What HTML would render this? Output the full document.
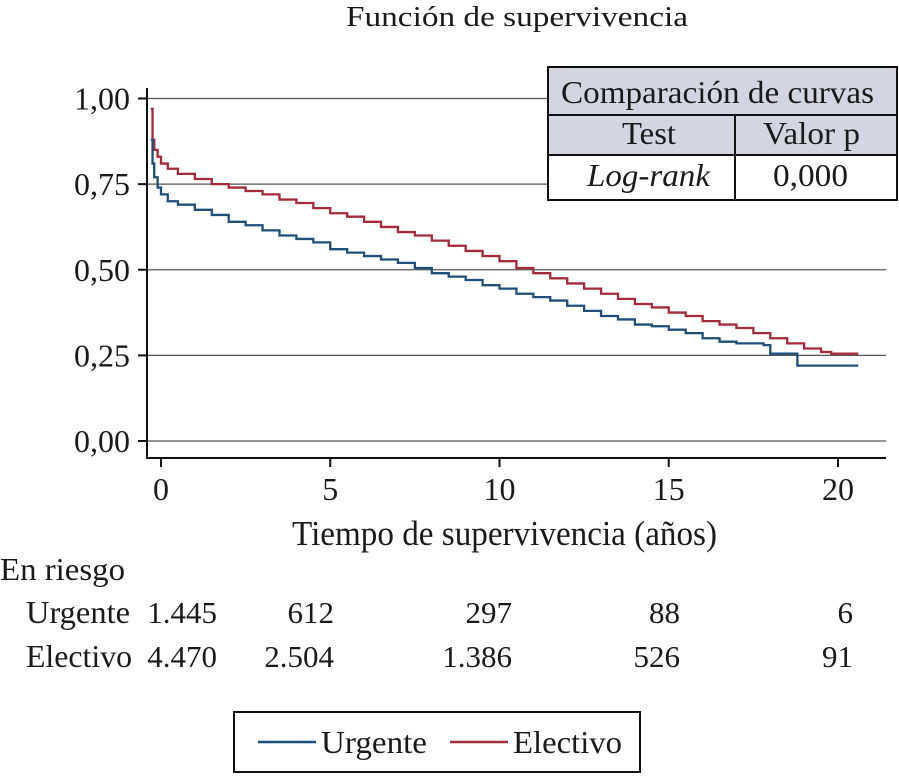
<!DOCTYPE html>
<html><head><meta charset="utf-8"><style>
body{margin:0;background:#fff}
svg text{font-family:"Liberation Serif",serif;fill:#1a1a1a}
</style></head><body>
<svg width="899" height="774" viewBox="0 0 899 774" xmlns="http://www.w3.org/2000/svg">
<text x="346" y="26" font-size="28" textLength="342" lengthAdjust="spacingAndGlyphs">Función de supervivencia</text>
<g id="grid"></g>
<g id="axes"></g>
<g id="curves"></g>
<g>
<rect x="548" y="67" width="349" height="88" fill="#d4d5e1"/>
<rect x="548" y="155" width="349" height="45" fill="#fff"/>
<rect x="548" y="67" width="349" height="133" fill="none" stroke="#111" stroke-width="2"/>
<line x1="548" y1="115" x2="897" y2="115" stroke="#111" stroke-width="2"/>
<line x1="548" y1="155" x2="897" y2="155" stroke="#111" stroke-width="2"/>
<line x1="735" y1="115" x2="735" y2="200" stroke="#111" stroke-width="2"/>
<text x="561" y="103" font-size="32" textLength="313" lengthAdjust="spacingAndGlyphs">Comparación de curvas</text>
<text x="622" y="144" font-size="32" textLength="54" lengthAdjust="spacingAndGlyphs">Test</text>
<text x="763" y="144" font-size="32" textLength="97" lengthAdjust="spacingAndGlyphs">Valor p</text>
<text x="587" y="186" font-size="32" font-style="italic" textLength="123" lengthAdjust="spacingAndGlyphs">Log-rank</text>
<text x="773" y="186" font-size="32" textLength="75" lengthAdjust="spacingAndGlyphs">0,000</text>
</g>
<text x="292" y="545" font-size="35" textLength="425" lengthAdjust="spacingAndGlyphs">Tiempo de supervivencia (años)</text>
<g>
<text x="0" y="580" font-size="32" textLength="125" lengthAdjust="spacingAndGlyphs">En riesgo</text>
<text x="26" y="623" font-size="32" textLength="104" lengthAdjust="spacingAndGlyphs">Urgente</text>
<text x="26" y="667" font-size="32" textLength="106" lengthAdjust="spacingAndGlyphs">Electivo</text>
<g id="riskvals"></g>
</g>
<g>
<rect x="234" y="712" width="406" height="60" fill="#fff" stroke="#111" stroke-width="2"/>
<line x1="258" y1="742" x2="316" y2="742" stroke="#1f4e79" stroke-width="2.5"/>
<text x="321" y="753" font-size="32" textLength="106" lengthAdjust="spacingAndGlyphs">Urgente</text>
<line x1="450" y1="742" x2="508" y2="742" stroke="#a52a3a" stroke-width="2.5"/>
<text x="513" y="753" font-size="32" textLength="109" lengthAdjust="spacingAndGlyphs">Electivo</text>
</g>
</svg>
<script>
const yTicks=[0,0.25,0.5,0.75,1];
const yTickLabels=["0,00","0,25","0,50","0,75","1,00"];
const xTicks=[0,5,10,15,20];
const urgT=[-0.3,-0.25,-0.2,-0.1,0,0.2,0.5,1,1.5,2,2.5,3,3.5,4,4.5,5,5.5,6,6.5,7,7.5,8,8.5,9,9.5,10,10.5,11,11.5,12,12.5,13,13.5,14,14.5,15,15.5,16,16.5,17,17.8,18,18.8,20.6];
const urgS=[0.88,0.81,0.77,0.74,0.72,0.7,0.69,0.675,0.66,0.64,0.63,0.615,0.6,0.59,0.58,0.56,0.55,0.54,0.53,0.52,0.505,0.49,0.48,0.47,0.455,0.445,0.43,0.42,0.41,0.395,0.38,0.365,0.355,0.34,0.335,0.325,0.315,0.3,0.29,0.285,0.28,0.255,0.22,0.22];
const eleT=[-0.3,-0.25,-0.2,-0.1,0,0.2,0.5,1,1.5,2,2.5,3,3.5,4,4.5,5,5.5,6,6.5,7,7.5,8,8.5,9,9.5,10,10.5,11,11.5,12,12.5,13,13.5,14,14.5,15,15.5,16,16.5,17,17.5,18,18.5,19,19.5,19.8,20.6];
const eleS=[0.97,0.88,0.85,0.83,0.81,0.795,0.78,0.765,0.75,0.74,0.73,0.72,0.705,0.695,0.68,0.665,0.655,0.64,0.625,0.61,0.6,0.585,0.57,0.555,0.54,0.525,0.505,0.49,0.475,0.46,0.445,0.43,0.415,0.4,0.39,0.375,0.365,0.35,0.34,0.33,0.315,0.3,0.285,0.27,0.26,0.255,0.255];
const riskUrg=["1.445","612","297","88","6"];
const riskEle=["4.470","2.504","1.386","526","91"];
const NS="http://www.w3.org/2000/svg";
const X=t=>161+t*33.85, Y=s=>441-s*342.5;
function mk(tag,attrs,parent){const e=document.createElementNS(NS,tag);for(const k in attrs)e.setAttribute(k,attrs[k]);document.getElementById(parent).appendChild(e);return e;}
yTicks.forEach((v,i)=>{
 const g=mk('line',{x1:147,x2:886,y1:Y(v),y2:Y(v),stroke:'#555','stroke-width':1.3},'grid');
 
 
 mk('line',{x1:138,x2:147,y1:Y(v),y2:Y(v),stroke:'#111','stroke-width':2},'axes');
 const t=mk('text',{x:130,y:Y(v)+11,'font-size':32,'text-anchor':'end'},'axes');t.textContent=yTickLabels[i];
 
 
});
mk('line',{x1:147,x2:147,y1:88,y2:459,stroke:'#111','stroke-width':2},'axes');
mk('line',{x1:147,x2:886,y1:458,y2:458,stroke:'#111','stroke-width':2},'axes');
xTicks.forEach(v=>{
 mk('line',{x1:X(v),x2:X(v),y1:458,y2:467,stroke:'#111','stroke-width':2},'axes');
 const t=mk('text',{x:X(v),y:500,'font-size':32,'text-anchor':'middle'},'axes');t.textContent=v;
 
 
});
function step(T,S,color,name){
 let d='M'+X(T[0])+','+Y(S[0]);
 for(let i=1;i<T.length;i++){d+=' H'+X(T[i])+' V'+Y(S[i]);}
 const p=mk('path',{d:d,fill:'none',stroke:color,'stroke-width':2.3},'curves');
 
 
}
step(eleT,eleS,'#a52a3a','electivo-curve');
step(urgT,urgS,'#1f4e79','urgente-curve');
const riskX=[217,334,512,680,853];
[[riskUrg,623],[riskEle,667]].forEach(([arr,y])=>arr.forEach((v,i)=>{
 const t=mk('text',{x:riskX[i],y:y,'font-size':31,'text-anchor':'end'},'riskvals');t.textContent=v;
 
 
}));
</script>
</body></html>
